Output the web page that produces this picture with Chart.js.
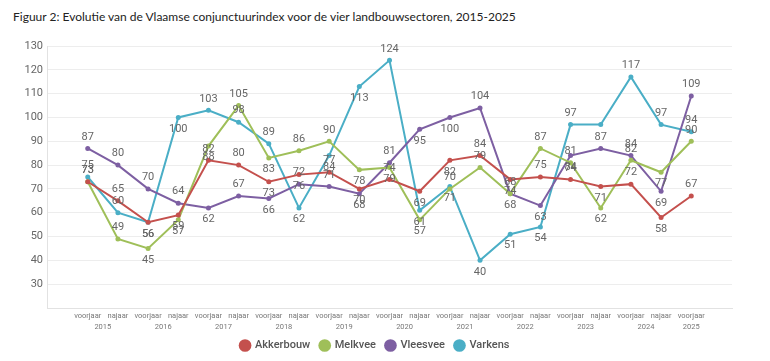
<!DOCTYPE html>
<html>
<head>
<meta charset="utf-8">
<script src="https://cdn.jsdelivr.net/npm/chart.js@4.4.1/dist/chart.umd.min.js"></script>
<style>
  html, body { margin: 0; padding: 0; background: #fff; }
  #wrap { position: relative; width: 770px; height: 361px; }
  #title { position: absolute; left: 13px; top: 9px; font: 12px Lato, sans-serif; color: #222; white-space: nowrap; }
  canvas { position: absolute; left: 0; top: 0; }
</style>
</head>
<body>
<div id="wrap">
  <div id="title">Figuur 2: Evolutie van de Vlaamse conjunctuurindex voor de vier landbouwsectoren, 2015-2025</div>
  <canvas id="chart" width="770" height="361"></canvas>
</div>
<script>
// periods (season + year), one per point
const categories = [
  'voorjaar 2015', 'najaar 2015', 'voorjaar 2016', 'najaar 2016', 'voorjaar 2017', 'najaar 2017',
  'voorjaar 2018', 'najaar 2018', 'voorjaar 2019', 'najaar 2019', 'voorjaar 2020', 'najaar 2020',
  'voorjaar 2021', 'najaar 2021', 'voorjaar 2022', 'najaar 2022', 'voorjaar 2023', 'najaar 2023',
  'voorjaar 2024', 'najaar 2024', 'voorjaar 2025'
];

const akkerbouw = [73, 65, 56, 59, 82, 80, 73, 76, 77, 70, 74, 69, 82, 84, 74, 75, 74, 71, 72, 58, 67];
const melkvee   = [73, 49, 45, 57, 88, 105, 83, 86, 90, 78, 79, 57, 70, 79, 68, 87, 81, 62, 82, 77, 90];
const vleesvee  = [87, 80, 70, 64, 62, 67, 66, 72, 71, 68, 81, 95, 100, 104, 68, 63, 84, 87, 84, 69, 109];
const varkens   = [75, 60, 56, 100, 103, 98, 89, 62, 84, 113, 124, 61, 71, 40, 51, 54, 97, 97, 117, 97, 94];

const yTicks = [30, 40, 50, 60, 70, 80, 90, 100, 110, 120, 130];

const toPoints = arr => arr.map((v, i) => ({ x: i, y: v }));

function series(label, values, color, below, hidden) {
  return {
    label,
    data: toPoints(values),
    borderColor: color,
    backgroundColor: color,
    pointBackgroundColor: color,
    borderWidth: 2,
    pointRadius: 2.5,
    pointBorderWidth: 0,
    tension: 0,
    labelBelow: below,
    labelHidden: hidden || []
  };
}

// value labels above or below each point
const valueLabels = {
  id: 'valueLabels',
  afterDatasetsDraw(chart) {
    const ctx = chart.ctx;
    ctx.save();
    ctx.font = '11px Roboto';
    ctx.fillStyle = '#666';
    ctx.textAlign = 'center';
    ctx.textBaseline = 'middle';
    chart.data.datasets.forEach((ds, di) => {
      chart.getDatasetMeta(di).data.forEach((pt, i) => {
        if (ds.labelHidden.includes(i)) return;
        const dy = ds.labelBelow.includes(i) ? 11.5 : -11.5;
        ctx.fillText(ds.data[i].y, pt.x, pt.y + dy);
      });
    });
    ctx.restore();
  }
};

// year row under the season ticks
const yearRow = {
  id: 'yearRow',
  afterDraw(chart) {
    const xs = chart.scales.x;
    const ctx = chart.ctx;
    const groups = {};
    categories.forEach((c, i) => {
      const yr = c.split(' ')[1];
      (groups[yr] = groups[yr] || []).push(xs.getPixelForValue(i));
    });
    ctx.save();
    ctx.font = '7.5px Roboto';
    ctx.fillStyle = '#777';
    ctx.textAlign = 'center';
    ctx.textBaseline = 'middle';
    Object.keys(groups).forEach(yr => {
      const p = groups[yr];
      ctx.fillText(yr, p.reduce((a, b) => a + b, 0) / p.length, xs.top + 19);
    });
    ctx.restore();
  }
};

new Chart(document.getElementById('chart'), {
  type: 'line',
  data: {
    datasets: [
      series('Akkerbouw', akkerbouw, '#c4504d', [2, 3, 6, 7, 9, 11, 12, 14, 17, 19]),
      series('Melkvee', melkvee, '#9fbf59', [2, 3, 4, 6, 9, 10, 11, 17, 19]),
      series('Vleesvee', vleesvee, '#7d5fa2', [4, 6, 9, 11, 12, 14, 15, 16, 19]),
      series('Varkens', varkens, '#4aaec6', [2, 3, 7, 8, 9, 11, 12, 13, 14, 15], [17])
    ]
  },
  options: {
    responsive: false,
    animation: false,
    layout: { padding: { top: 46, right: 38, left: 18, bottom: 0 } },
    plugins: {
      title: { display: false },
      tooltip: { enabled: false },
      legend: {
        position: 'bottom',
        labels: {
          usePointStyle: true,
          pointStyle: 'circle',
          boxWidth: 9,
          boxHeight: 9,
          padding: 10,
          color: '#555',
          font: { family: 'Roboto', size: 11, weight: '500' }
        }
      }
    },
    scales: {
      x: {
        type: 'linear',
        min: -1.35,
        max: 21.35,
        grid: { display: false, drawTicks: false },
        border: { display: true, color: '#e2e2e2' },
        ticks: {
          stepSize: 1,
          autoSkip: false,
          maxRotation: 0,
          padding: 4,
          color: '#777',
          font: { family: 'Roboto', size: 7.5 },
          callback: v => (Number.isInteger(v) && categories[v]) ? categories[v].split(' ')[0] : ''
        },
        afterFit: s => { s.height = 22; }
      },
      y: {
        min: 20,
        max: 130,
        afterBuildTicks: s => { s.ticks = [20, ...yTicks].map(v => ({ value: v })); },
        grid: { color: '#ededed', drawTicks: false },
        border: { display: true, color: '#e2e2e2' },
        ticks: {
          padding: 4,
          color: '#666',
          font: { family: 'Roboto', size: 11 },
          callback: v => (v === 20 ? '' : v)
        },
        afterFit: s => { s.width = 29; }
      }
    }
  },
  plugins: [valueLabels, yearRow]
});
</script>
</body>
</html>
